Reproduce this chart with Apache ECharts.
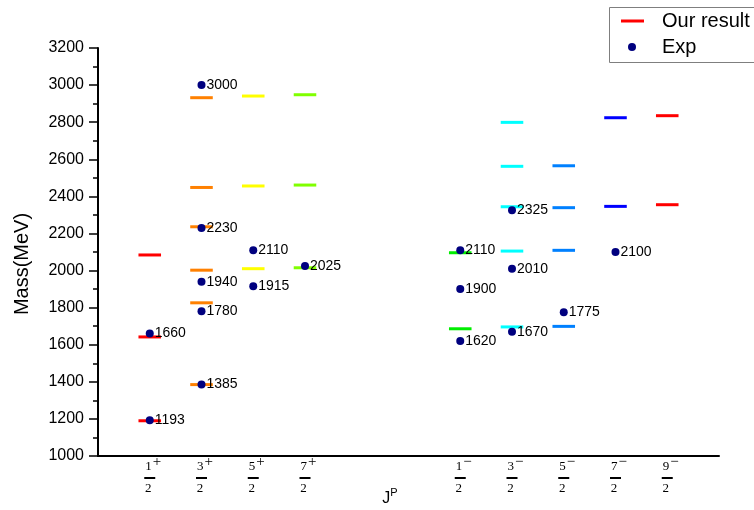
<!DOCTYPE html>
<html>
<head>
<meta charset="utf-8">
<script src="https://cdn.jsdelivr.net/npm/echarts@6/dist/echarts.min.js"></script>
<style>
  html, body { margin: 0; padding: 0; background: #fff; }
  #chart { width: 754px; height: 510px; }
</style>
</head>
<body>
<div id="chart"></div>
<script>
// J^P slots along the horizontal axis (blank entries leave gaps between parities)
const categories = ['', '1/2+', '3/2+', '5/2+', '7/2+', '', '', '1/2-', '3/2-', '5/2-', '7/2-', '9/2-', ''];

// Calculated masses (MeV) for each J^P
const calc_1_2p = [1190, 1642, 2084];
const calc_3_2p = [1385, 1826, 2002, 2236, 2448, 2932];
const calc_5_2p = [2010, 2456, 2941];
const calc_7_2p = [2015, 2461, 2948];
const calc_1_2m = [1686, 2096];
const calc_3_2m = [1696, 2105, 2344, 2562, 2799];
const calc_5_2m = [1699, 2109, 2339, 2565];
const calc_7_2m = [2346, 2824];
const calc_9_2m = [2355, 2835];

// Experimental masses (MeV) for each J^P
const exp_1_2p = [1193, 1660];
const exp_3_2p = [1385, 1780, 1940, 2230, 3000];
const exp_5_2p = [1915, 2110];
const exp_7_2p = [2025];
const exp_1_2m = [1620, 1900, 2110];
const exp_3_2m = [1670, 2010, 2325];
const exp_5_2m = [1775];
const exp_7_2m = [2100];

const calcByJP = {
  '1/2+': calc_1_2p, '3/2+': calc_3_2p, '5/2+': calc_5_2p, '7/2+': calc_7_2p,
  '1/2-': calc_1_2m, '3/2-': calc_3_2m, '5/2-': calc_5_2m, '7/2-': calc_7_2m, '9/2-': calc_9_2m
};
const expByJP = {
  '1/2+': exp_1_2p, '3/2+': exp_3_2p, '5/2+': exp_5_2p, '7/2+': exp_7_2p,
  '1/2-': exp_1_2m, '3/2-': exp_3_2m, '5/2-': exp_5_2m, '7/2-': exp_7_2m
};

// Level colours per J^P
const levelColors = {
  '1/2+': '#ff0000', '3/2+': '#ff8000', '5/2+': '#ffff00', '7/2+': '#80ff00',
  '1/2-': '#00ee00', '3/2-': '#00ffff', '5/2-': '#0080ff', '7/2-': '#0000ff', '9/2-': '#ff0000'
};

const calcData = [];
Object.keys(calcByJP).forEach(jp => calcByJP[jp].forEach(m => calcData.push([jp, m])));
const expData = [];
Object.keys(expByJP).forEach(jp => expByJP[jp].forEach(m => expData.push([jp, m])));

const SANS = 'Liberation Sans, Arial, sans-serif';
const SERIF = 'Liberation Serif, DejaVu Serif, serif';

// "1/2+" -> stacked fraction with a raised parity sign
function fractionLabel(value) {
  if (!value) return '';
  const num = value.split('/')[0];
  const sign = value.endsWith('+') ? '+' : '\u2212';
  return '{n|' + num + '}{s|' + sign + '}\n{b|\u00a0}\n{d|2}';
}

const chart = echarts.init(document.getElementById('chart'), null, { renderer: 'canvas' });

chart.setOption({
  backgroundColor: '#ffffff',
  animation: false,
  grid: { left: 98, right: 35, top: 48, bottom: 54, containLabel: false, outerBoundsMode: 'none' },
  legend: [
    {
      data: [{ name: 'Our result', icon: 'rect' }],
      left: 621, top: 11, padding: 0,
      itemWidth: 23, itemHeight: 3,
      textStyle: { fontFamily: SANS, fontSize: 20, color: '#000', padding: [0, 0, 0, 13] },
      selectedMode: false
    },
    {
      data: [{ name: 'Exp', icon: 'circle' }],
      left: 628, top: 37, padding: 0,
      itemWidth: 8, itemHeight: 8,
      textStyle: { fontFamily: SANS, fontSize: 20, color: '#000', padding: [0, 0, 0, 21] },
      selectedMode: false
    }
  ],
  graphic: [
    {
      type: 'rect', left: 607, top: 5, z: 100,
      shape: { width: 152, height: 55 },
      style: { fill: 'none', stroke: '#7f7f7f', lineWidth: 1 }
    }
  ],
  xAxis: {
    type: 'category',
    data: categories,
    boundaryGap: false,
    name: '{j|J}{p|P}',
    nameLocation: 'middle',
    nameGap: 31,
    nameMoveOverlap: false,
    nameTextStyle: {
      padding: [0, 37, 0, 0],
      rich: {
        j: { fontFamily: SANS, fontSize: 16, color: '#000', lineHeight: 20, verticalAlign: 'bottom' },
        p: { fontFamily: SANS, fontSize: 11, color: '#000', lineHeight: 20, verticalAlign: 'top' }
      }
    },
    axisLine: { show: true, lineStyle: { color: '#000', width: 2 } },
    axisTick: { show: false },
    splitLine: { show: false },
    axisLabel: {
      interval: 0,
      margin: -1,
      formatter: fractionLabel,
      rich: {
        n: { fontFamily: SERIF, fontSize: 13, color: '#000', lineHeight: 18, verticalAlign: 'bottom', padding: [0, 0, 0, 7] },
        s: { fontFamily: SERIF, fontSize: 15, color: '#000', lineHeight: 18, verticalAlign: 'top', padding: [0, 0, 0, 1] },
        b: { width: 8, height: 2, backgroundColor: '#000', lineHeight: 10, fontSize: 2, padding: [0, 3, 0, 0] },
        d: { fontFamily: SERIF, fontSize: 13, color: '#000', lineHeight: 12, padding: [0, 3, 0, 0] }
      }
    }
  },
  yAxis: {
    type: 'value',
    min: 1000, max: 3200, interval: 200,
    name: 'Mass(MeV)',
    nameLocation: 'middle',
    nameGap: 66,
    nameTextStyle: { fontFamily: SANS, fontSize: 20, color: '#000', padding: [0, 24, 0, 0] },
    axisLine: { show: true, lineStyle: { color: '#000', width: 2 } },
    axisTick: { show: true, inside: false, length: 9, lineStyle: { color: '#000', width: 1.5 } },
    minorTick: { show: true, splitNumber: 2, length: 5, lineStyle: { color: '#000', width: 1.5 } },
    splitLine: { show: false },
    axisLabel: { margin: 14, fontFamily: SANS, fontSize: 16, color: '#000', formatter: v => String(v) }
  },
  series: [
    {
      name: 'Our result',
      type: 'custom',
      itemStyle: { color: '#ff0000' },
      encode: { x: 0, y: 1 },
      data: calcData,
      z: 2,
      renderItem: function (params, api) {
        const idx = api.value(0);
        const m = api.value(1);
        const c = api.coord([idx, m]);
        const half = api.size([1, 0])[0] * 0.218;
        return {
          type: 'line',
          shape: { x1: c[0] - half, y1: c[1], x2: c[0] + half, y2: c[1] },
          style: { stroke: levelColors[categories[idx]], lineWidth: 3 }
        };
      }
    },
    {
      name: 'Exp',
      type: 'scatter',
      symbol: 'circle',
      symbolSize: 8,
      itemStyle: { color: '#00007f', opacity: 1 },
      z: 3,
      data: expData,
      label: {
        show: true,
        position: 'right',
        distance: 1,
        fontFamily: SANS,
        fontSize: 14,
        color: '#000',
        formatter: p => String(p.value[1])
      }
    }
  ]
});
</script>
</body>
</html>
